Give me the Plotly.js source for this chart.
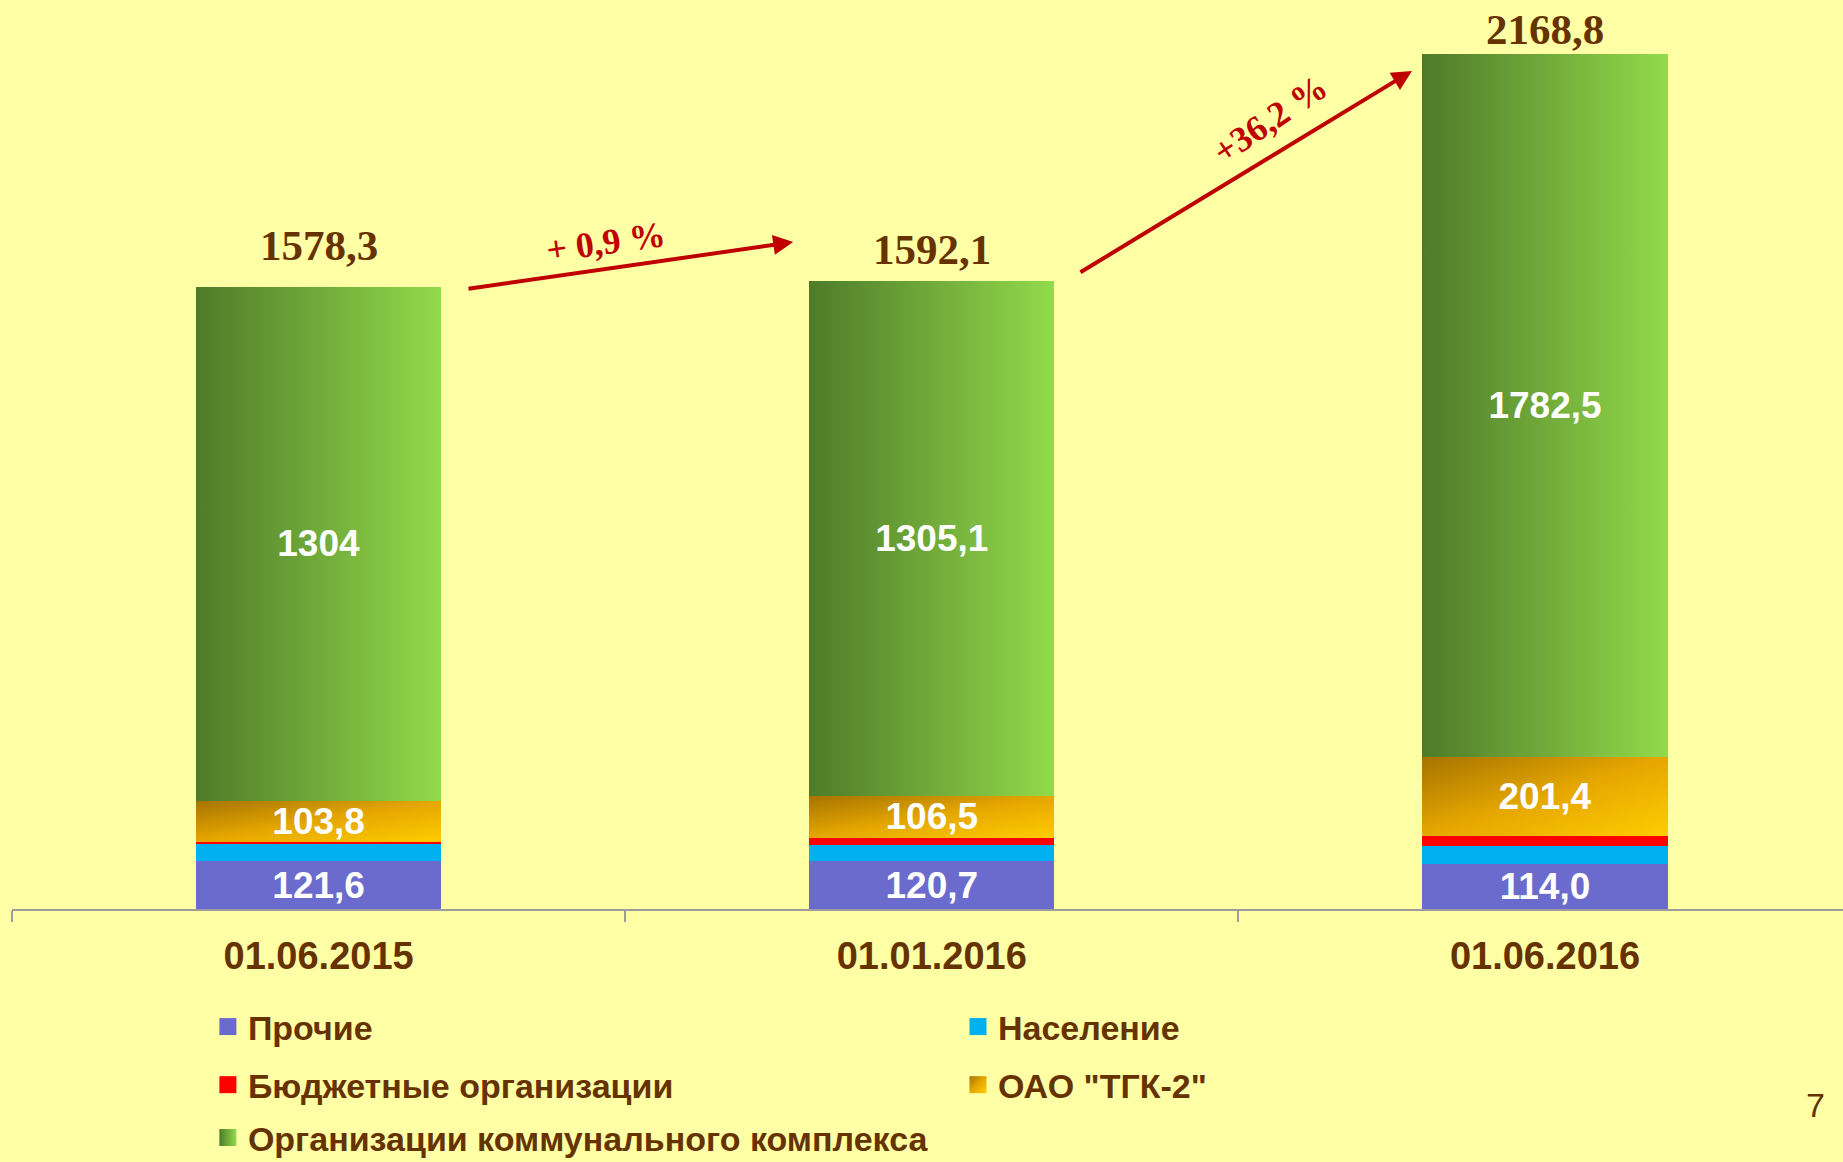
<!DOCTYPE html>
<html>
<head>
<meta charset="utf-8">
<script src="https://cdn.plot.ly/plotly-3.0.1.min.js"></script>
<style>
  html, body { margin: 0; padding: 0; background: #FFFFA6; }
  #chart { width: 1843px; height: 1162px; }
</style>
</head>
<body>
<div id="chart"></div>
<script>
// ---- data ----
const categories = ['01.06.2015', '01.01.2016', '01.06.2016'];
const prochie    = [121.6, 120.7, 114.0];   // Прочие
const naselenie  = [43.9, 41.5, 46.8];      // Население
const budget     = [5.0, 18.3, 24.1];       // Бюджетные организации
const tgk2       = [103.8, 106.5, 201.4];   // ОАО "ТГК-2"
const kommunal   = [1304.0, 1305.1, 1782.5];// Организации коммунального комплекса
const prochieLabels  = ['121,6', '120,7', '114,0'];
const tgk2Labels     = ['103,8', '106,5', '201,4'];
const kommunalLabels = ['1304', '1305,1', '1782,5'];
const totals      = [1578.3, 1592.1, 2168.8];
const totalLabels = ['1578,3', '1592,1', '2168,8'];
const growthLabels = ['+ 0,9 %', '+36,2 %'];
const seriesNames = ['Прочие', 'Население', 'Бюджетные организации', 'ОАО "ТГК-2"', 'Организации коммунального комплекса'];

// ---- styles ----
const BROWN = '#663300';
const SANS = 'Liberation Sans, Arial, sans-serif';
const SERIF = 'Liberation Serif, Times New Roman, serif';
const valueFont = { family: SANS, size: 37, color: '#FFFFFF', weight: 'bold' };
const totalShift = [41, 32, 25];   // label offset above each bar (px)

function barTrace(name, y, color, text, legendId) {
  const t = {
    type: 'bar', name: name, x: categories, y: y,
    marker: { color: color, line: { width: 0 } },
    legend: legendId, showlegend: true, hoverinfo: 'skip',
    cliponaxis: false
  };
  if (text) {
    t.text = text; t.textposition = 'inside'; t.insidetextanchor = 'middle';
    t.textangle = 0; t.constraintext = 'none'; t.insidetextfont = valueFont; t.textfont = valueFont;
  } else {
    t.textposition = 'none';
  }
  return t;
}

const data = [
  barTrace(seriesNames[0], prochie,   '#6B6BCD', prochieLabels,  'legend'),
  barTrace(seriesNames[1], naselenie, '#00B0F0', null,           'legend2'),
  barTrace(seriesNames[2], budget,    '#FF0000', null,           'legend3'),
  barTrace(seriesNames[3], tgk2,      '#E6A800', tgk2Labels,     'legend4'),
  barTrace(seriesNames[4], kommunal,  '#70AD3A', kommunalLabels, 'legend5')
];

const legendFont = { family: SANS, size: 34, color: BROWN, weight: 'bold' };
function legendAt(x, y) {
  return { x: x, y: y, xref: 'container', yref: 'container', xanchor: 'left', yanchor: 'middle',
           bgcolor: 'rgba(0,0,0,0)', borderwidth: 0, font: legendFont };
}

const annotations = [];
// totals above bars
categories.forEach((c, i) => {
  annotations.push({ x: c, y: totals[i], xref: 'x', yref: 'y', text: totalLabels[i], showarrow: false,
    yanchor: 'middle', yshift: totalShift[i], font: { family: SERIF, size: 43, color: BROWN, weight: 'bold' } });
});
// growth arrows
annotations.push({ x: 0.774, y: 1692, ax: 0.242, ay: 1573, xref: 'x', yref: 'y', axref: 'x', ayref: 'y',
  text: '', showarrow: true, arrowhead: 2, arrowsize: 1, arrowwidth: 4, arrowcolor: '#C00000', standoff: 0 });
annotations.push({ x: 1.783, y: 2126, ax: 1.240, ay: 1613, xref: 'x', yref: 'y', axref: 'x', ayref: 'y',
  text: '', showarrow: true, arrowhead: 2, arrowsize: 1, arrowwidth: 4, arrowcolor: '#C00000', standoff: 0 });
annotations.push({ x: 0.469, y: 1692, xref: 'x', yref: 'y', text: growthLabels[0], showarrow: false,
  textangle: -8, font: { family: SERIF, size: 36, color: '#C00000', weight: 'bold' } });
annotations.push({ x: 1.553, y: 2003, xref: 'x', yref: 'y', text: growthLabels[1], showarrow: false,
  textangle: -34, font: { family: SERIF, size: 36, color: '#C00000', weight: 'bold' } });
// page number
annotations.push({ x: 0.9915, y: -0.239, xref: 'paper', yref: 'paper', text: '7', showarrow: false,
  font: { family: SANS, size: 34, color: BROWN } });

const layout = {
  width: 1843, height: 1162,
  margin: { l: 12, r: 0, t: 0, b: 253, autoexpand: false },
  paper_bgcolor: '#FFFFA6', plot_bgcolor: '#FFFFA6',
  barmode: 'stack', bargap: 0.6,
  separators: ', ',
  xaxis: {
    type: 'category', range: [-0.5, 2.486], fixedrange: true,
    showline: true, linecolor: '#9C9C9C', linewidth: 2,
    ticks: 'outside', tickson: 'boundaries', ticklen: 11, tickwidth: 2, tickcolor: '#9C9C9C',
    ticklabelstandoff: 12,
    showgrid: false, zeroline: false,
    tickfont: { family: SANS, size: 38, color: BROWN, weight: 'bold' }
  },
  yaxis: { visible: false, range: [0, 2306], fixedrange: true, showgrid: false, zeroline: false },
  legend:  legendAt(0.1128, 0.1162),
  legend2: legendAt(0.5198, 0.1162),
  legend3: legendAt(0.1128, 0.0662),
  legend4: legendAt(0.5198, 0.0662),
  legend5: legendAt(0.1128, 0.0207),
  annotations: annotations,
  hovermode: false
};

const gradFill = {};
gradFill[seriesNames[3]] = 'url(#gOrange)';
gradFill[seriesNames[4]] = 'url(#gGreen)';

function makeGrad(defs, id, x2, y2, stops) {
  const NS = 'http://www.w3.org/2000/svg';
  const g = document.createElementNS(NS, 'linearGradient');
  g.setAttribute('id', id);
  g.setAttribute('x1', '0'); g.setAttribute('y1', '0');
  g.setAttribute('x2', x2); g.setAttribute('y2', y2);
  stops.forEach(s => {
    const st = document.createElementNS(NS, 'stop');
    st.setAttribute('offset', s[0]);
    st.setAttribute('stop-color', s[1]);
    g.appendChild(st);
  });
  defs.appendChild(g);
}

function applyGradients() {
  const gd = document.getElementById('chart');
  if (!document.getElementById('gGreen')) {
    const defs = gd.querySelector('svg.main-svg defs');
    makeGrad(defs, 'gGreen', '1', '0', [['0', '#4E7B29'], ['1', '#93DA4B']]);
    makeGrad(defs, 'gOrange', '1', '1', [['0', '#A67300'], ['0.5', '#E5A700'], ['1', '#FFCC00']]);
  }
  gd.querySelectorAll('.barlayer .trace').forEach(g => {
    const d = g.__data__;
    const name = d && d[0] && d[0].trace && d[0].trace.name;
    if (gradFill[name]) g.querySelectorAll('path').forEach(p => { p.style.fill = gradFill[name]; });
  });
  gd.querySelectorAll('g.traces').forEach(g => {
    const d = g.__data__;
    const name = d && d[0] && d[0].trace && d[0].trace.name;
    g.querySelectorAll('.legendpoints path').forEach(p => {
      p.setAttribute('d', 'M8.5,8.5H-8.5V-8.5H8.5Z');
      if (gradFill[name]) p.style.fill = gradFill[name];
    });
  });
}

const gd = document.getElementById('chart');
Plotly.newPlot(gd, data, layout, { displayModeBar: false, staticPlot: true }).then(() => {
  applyGradients();
  gd.on('plotly_afterplot', applyGradients);
});
</script>
</body>
</html>
